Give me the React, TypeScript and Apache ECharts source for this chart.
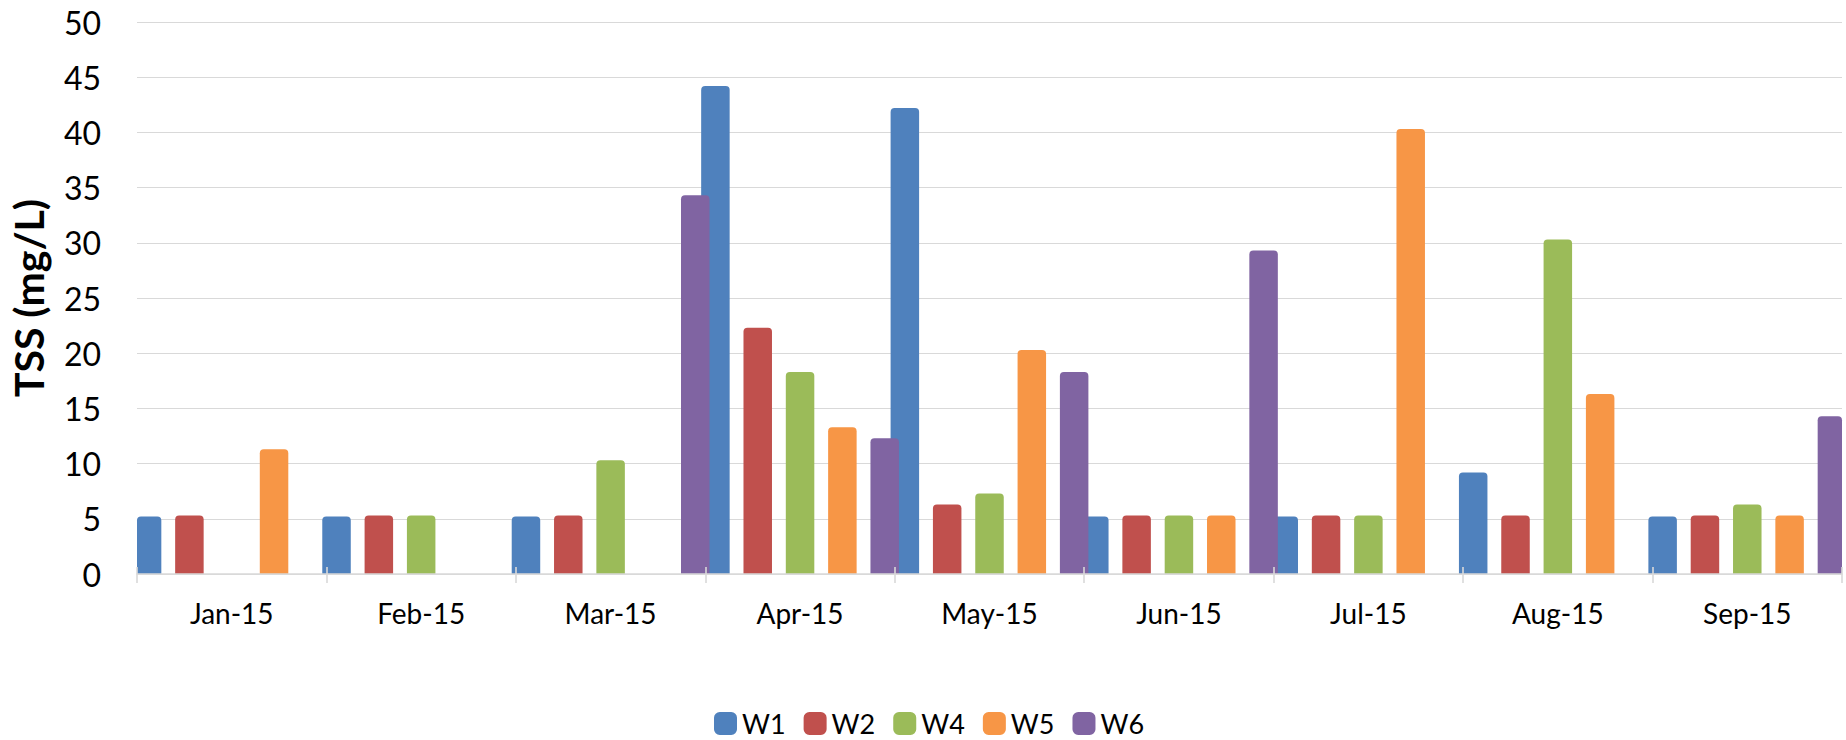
import React, { useEffect, useRef } from "react";
import * as echarts from "echarts";

const categories = ["Jan-15", "Feb-15", "Mar-15", "Apr-15", "May-15", "Jun-15", "Jul-15", "Aug-15", "Sep-15"];
const seriesNames = ["W1", "W2", "W4", "W5", "W6"];
const w1 = [5.2, 5.2, 5.2, 44.2, 42.2, 5.2, 5.2, 9.2, 5.2];
const w2 = [5.3, 5.3, 5.3, 22.3, 6.3, 5.3, 5.3, 5.3, 5.3];
const w4 = [null, 5.3, 10.3, 18.3, 7.3, 5.3, 5.3, 30.3, 6.3];
const w5 = [11.3, null, null, 13.3, 20.3, 5.3, 40.3, 16.3, 5.3];
const w6 = [null, null, 34.3, 12.3, 18.3, 29.3, null, null, 14.3];
const seriesValues = [w1, w2, w4, w5, w6];
const colors = ["#4F81BD", "#C0504D", "#9BBB59", "#F79646", "#8064A2"];
const yTicks = { min: 0, max: 50, interval: 5 };

export default function App() {
  const ref = useRef<HTMLDivElement>(null);
  useEffect(() => {
    if (!ref.current) return;
    const chart = echarts.init(ref.current, undefined, { renderer: "svg" });
    const gray = "#d9d9d9";
    chart.setOption({
      animation: false,
      color: colors,
      grid: { left: 135, right: 4, top: 22, bottom: 166, containLabel: false },
      legend: {
        data: seriesNames,
        top: 710,
        left: 714,
        icon: "roundRect",
        itemWidth: 23,
        itemHeight: 23,
        itemGap: 18,
        padding: 0,
        textStyle: { fontFamily: "Lato", fontSize: 27, lineHeight: 27, color: "#000" },
      },
      xAxis: [
        {
          type: "category",
          data: categories,
          z: 3,
          axisLine: { lineStyle: { color: gray, width: 1.6 } },
          axisTick: { show: true, length: 9, lineStyle: { color: gray, width: 1.6 } },
          axisLabel: { fontFamily: "Lato", fontSize: 28, color: "#000", margin: 25 },
          splitLine: { show: false },
        },
        {
          type: "category",
          data: categories,
          position: "bottom",
          z: 3,
          axisLine: { show: false },
          axisTick: { show: true, inside: true, length: 7, lineStyle: { color: gray, width: 1.6 } },
          axisLabel: { show: false },
          splitLine: { show: false },
        },
      ],
      yAxis: {
        type: "value",
        min: yTicks.min,
        max: yTicks.max,
        interval: yTicks.interval,
        name: "TSS (mg/L)",
        nameLocation: "middle",
        nameGap: 88,
        nameTextStyle: { fontFamily: "Lato", fontWeight: "bold", fontSize: 41, color: "#000" },
        axisLine: { show: false },
        axisTick: { show: false },
        axisLabel: { fontFamily: "Lato", fontSize: 32, color: "#000", margin: 36 },
        splitLine: { lineStyle: { color: gray, width: 1.2 } },
      },
      series: seriesNames.map((name, i) => ({
        name,
        type: "bar",
        xAxisIndex: 0,
        data: seriesValues[i],
        barWidth: 28.5,
        barGap: "48.5%",
        clip: true,
        itemStyle: { color: colors[i], borderRadius: [4, 4, 0, 0] },
      })),
    });
    return () => chart.dispose();
  }, []);
  return (
    <div
      ref={ref}
      style={{ position: "fixed", left: 0, top: 0, width: 1846, height: 740, background: "#fff" }}
    />
  );
}
